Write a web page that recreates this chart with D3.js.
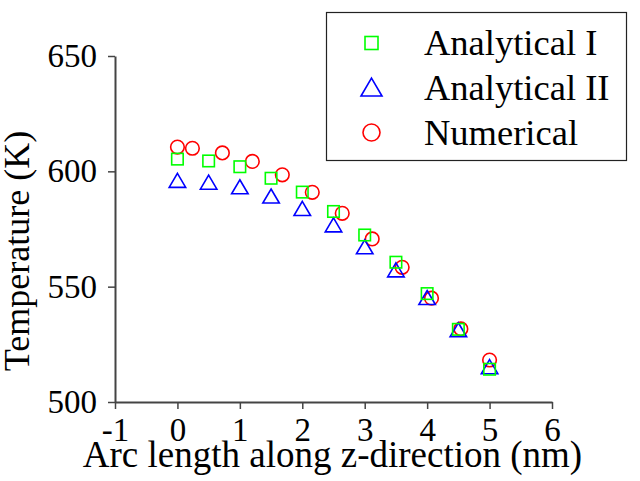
<!DOCTYPE html>
<html>
<head>
<meta charset="utf-8">
<script src="https://cdn.jsdelivr.net/npm/d3@7/dist/d3.min.js"></script>
<style>
  body { margin: 0; background: #fff; }
</style>
</head>
<body>
<svg id="chart" width="640" height="481"></svg>
<script>
// analytical series share the same z positions
const zAnalytical = [0, 0.5, 1, 1.5, 2, 2.5, 3, 3.5, 4, 4.5, 5];
const analyticalI = [605.3, 604.5, 602, 597, 591, 582.6, 572.4, 560.6, 547, 531.5, 514.2];
const analyticalII = [595.8, 595, 593, 589, 583.6, 576.5, 567, 557, 545, 531, 515];

const zNumerical = [0, 0.24, 0.72, 1.2, 1.68, 2.16, 2.64, 3.12, 3.6, 4.07, 4.54, 5];
const numerical = [610.5, 610, 608, 604.3, 598.5, 590.9, 581.8, 570.7, 558.4, 545, 531.7, 518.2];

const xTicks = [-1, 0, 1, 2, 3, 4, 5, 6];
const yTicks = [500, 550, 600, 650];
const legendLabels = ["Analytical I", "Analytical II", "Numerical"];

const FONT = "Liberation Serif";

const svg = d3.select("#chart").attr("font-family", FONT);

const x = d3.scaleLinear().domain([-1, 6]).range([115, 552]);
const y = d3.scaleLinear().domain([500, 650]).range([402, 56]);

const axisColor = "#444";

// x axis
const gx = svg.append("g")
  .attr("transform", "translate(0," + y(500) + ")")
  .call(d3.axisBottom(x).tickValues(xTicks).tickSize(7).tickPadding(9)
    .tickSizeOuter(0));
gx.attr("font-family", FONT);
gx.select(".domain").attr("stroke", axisColor).attr("stroke-width", 2);
gx.selectAll(".tick line").attr("stroke", axisColor).attr("stroke-width", 1.5);
gx.selectAll(".tick text")
  .attr("font-size", 33)
  .attr("fill", "#000")
  .text(d => (d < 0 ? "-" + Math.abs(d) : d));

// y axis
const gy = svg.append("g")
  .attr("transform", "translate(" + x(-1) + ",0)")
  .call(d3.axisLeft(y).tickValues(yTicks).tickSize(7).tickPadding(11).tickSizeOuter(0));
gy.attr("font-family", FONT);
gy.select(".domain").attr("stroke", axisColor).attr("stroke-width", 2);
gy.selectAll(".tick line").attr("stroke", axisColor).attr("stroke-width", 1.5);
gy.selectAll(".tick text")
  .attr("font-size", 33)
  .attr("fill", "#000");

// axis titles
svg.append("text")
  .attr("x", 332.5)
  .attr("y", 467)
  .attr("text-anchor", "middle")
  .attr("font-size", 37)
  .text("Arc length along z-direction (nm)");

svg.append("text")
  .attr("transform", "translate(29,251) rotate(-90)")
  .attr("text-anchor", "middle")
  .attr("font-size", 36)
  .text("Temperature (K)");

// marker helpers
const square = (g, cx, cy, s, color) =>
  g.append("rect")
    .attr("x", cx - s / 2).attr("y", cy - s / 2)
    .attr("width", s).attr("height", s)
    .attr("fill", "none").attr("stroke", color).attr("stroke-width", 1.6);

const triangle = (g, cx, cy, w, color) => {
  const h = w * 0.85;
  g.append("path")
    .attr("d", "M" + cx + "," + (cy - h * 0.55) +
      "L" + (cx + w / 2) + "," + (cy + h * 0.45) +
      "L" + (cx - w / 2) + "," + (cy + h * 0.45) + "Z")
    .attr("fill", "none").attr("stroke", color).attr("stroke-width", 1.6);
};

const circle = (g, cx, cy, r, color) =>
  g.append("circle")
    .attr("cx", cx).attr("cy", cy).attr("r", r)
    .attr("fill", "none").attr("stroke", color).attr("stroke-width", 1.6);

const marks = svg.append("g");

zNumerical.forEach((z, i) => circle(marks, x(z), y(numerical[i]), 6.8, "#ff0000"));
zAnalytical.forEach((z, i) => triangle(marks, x(z), y(analyticalII[i]), 16.5, "#0000ff"));
zAnalytical.forEach((z, i) => square(marks, x(z), y(analyticalI[i]), 11.5, "#00ff00"));

// legend
const legend = svg.append("g");
legend.append("rect")
  .attr("x", 326.5).attr("y", 12.5)
  .attr("width", 300).attr("height", 148)
  .attr("fill", "#fff").attr("stroke", "#222").attr("stroke-width", 1.2);

const rowY = [43, 88, 132.5];
square(legend, 371.5, rowY[0], 13, "#00ff00");
triangle(legend, 371.5, rowY[1], 21, "#0000ff");
circle(legend, 371.5, rowY[2], 8.5, "#ff0000");

legend.selectAll("text.lab")
  .data(legendLabels)
  .enter()
  .append("text")
  .attr("class", "lab")
  .attr("x", 424)
  .attr("y", (d, i) => [55, 100, 145][i])
  .attr("font-size", 36.5)
  .attr("fill", "#000")
  .text(d => d);
</script>
</body>
</html>
